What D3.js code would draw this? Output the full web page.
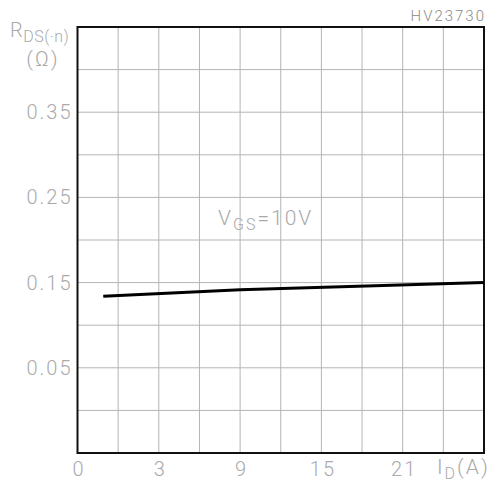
<!DOCTYPE html>
<html lang="en">
<head>
    <meta charset="UTF-8">
    <title>RDS(on) vs ID</title>
    <script src="https://d3js.org/d3.v7.min.js"></script>
    <style>
        body { margin: 0; background: #fff; }
        text { font-family: Roboto, "Liberation Sans", sans-serif; font-weight: 300; fill: #aaa; letter-spacing: 2px; }
    </style>
</head>
<body>
    <div id="chart"></div>
    <script>
        // tick labels (as printed on the datasheet)
        const xTickValues = [-3, 3, 9, 15, 21];
        const xTickLabels = ["0", "3", "9", "15", "21"];
        const yTickValues = [0.05, 0.15, 0.25, 0.35];
        const yTickLabels = ["0.05", "0.15", "0.25", "0.35"];

        // curve VGS = 10V
        const idValues = [-1.1, 9, 27];
        const rdsValues = [0.134, 0.1415, 0.150];

        const width = 493, height = 485;
        const margin = { top: 27, right: 9, bottom: 32, left: 77.5 };

        const svg = d3.select('#chart').append('svg')
            .attr('width', width)
            .attr('height', height);

        const x = d3.scaleLinear().domain([-3, 27]).range([margin.left, width - margin.right]);
        const y = d3.scaleLinear().domain([-0.05, 0.45]).range([height - margin.bottom, margin.top]);

        // grid
        const xGrid = d3.range(-3, 27.01, 3);
        const yGrid = d3.range(0, 11).map(i => -0.05 + i * 0.05);

        svg.append('g').selectAll('line').data(xGrid).enter().append('line')
            .attr('x1', d => x(d)).attr('x2', d => x(d))
            .attr('y1', y(0.45)).attr('y2', y(-0.05))
            .attr('stroke', '#b4b4b4').attr('stroke-width', 1);

        svg.append('g').selectAll('line').data(yGrid).enter().append('line')
            .attr('x1', x(-3)).attr('x2', x(27))
            .attr('y1', d => y(d)).attr('y2', d => y(d))
            .attr('stroke', '#b4b4b4').attr('stroke-width', 1);

        // frame
        svg.append('rect')
            .attr('x', x(-3)).attr('y', y(0.45))
            .attr('width', x(27) - x(-3)).attr('height', y(-0.05) - y(0.45))
            .attr('fill', 'none').attr('stroke', '#111').attr('stroke-width', 2);

        // axes
        const xAxis = svg.append('g')
            .attr('transform', `translate(1,${height - margin.bottom})`)
            .call(d3.axisBottom(x).tickValues(xTickValues).tickSize(0).tickPadding(9)
                .tickFormat((d, i) => xTickLabels[i]));
        xAxis.select('.domain').remove();
        xAxis.selectAll('text').style('font-size', '20px').attr('fill', '#aaa');

        const yAxis = svg.append('g')
            .attr('transform', `translate(${margin.left + 1},0)`)
            .call(d3.axisLeft(y).tickValues(yTickValues).tickSize(0).tickPadding(6)
                .tickFormat((d, i) => yTickLabels[i]));
        yAxis.select('.domain').remove();
        yAxis.selectAll('text').style('font-size', '20px').attr('fill', '#aaa');

        // curve
        const pts = idValues.map((d, i) => [d, rdsValues[i]]);
        svg.append('path')
            .datum(pts)
            .attr('d', d3.line().x(d => x(d[0])).y(d => y(d[1])))
            .attr('fill', 'none')
            .attr('stroke', '#000')
            .attr('stroke-width', 3);

        // labels
        const rLabel = svg.append('text').attr('x', 10).attr('y', 37)
            .style('font-size', '20px').style('letter-spacing', '0.5px');
        rLabel.append('tspan').text('R');
        rLabel.append('tspan').attr('dy', 5).style('font-size', '16px').text('DS(·n)');

        svg.append('text').attr('x', 43).attr('y', 66).attr('text-anchor', 'middle')
            .style('font-size', '21px').text('(Ω)');

        svg.append('text').attr('x', 486).attr('y', 21).attr('text-anchor', 'end')
            .style('font-size', '15px').style('fill', '#888').text('HV23730');

        const vLabel = svg.append('text').attr('x', 218).attr('y', 225).style('font-size', '21px');
        vLabel.append('tspan').text('V');
        vLabel.append('tspan').attr('dy', 5).style('font-size', '16px').text('GS');
        vLabel.append('tspan').attr('dy', -5).text('=10V');

        const iLabel = svg.append('text').attr('x', 437).attr('y', 474).style('font-size', '21px');
        iLabel.append('tspan').text('I');
        iLabel.append('tspan').attr('dy', 5).style('font-size', '16px').text('D');
        iLabel.append('tspan').attr('dy', -5).text('(A)');
    </script>
</body>
</html>
